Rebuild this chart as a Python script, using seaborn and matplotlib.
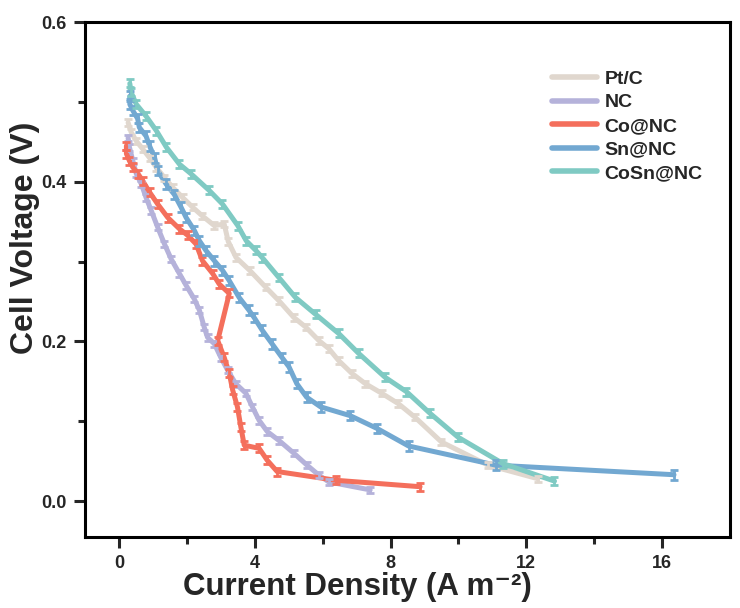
import numpy as np
import pandas as pd
import matplotlib
matplotlib.use("Agg")
import matplotlib.pyplot as plt
import seaborn as sns

# ---- data ----
ptc_x = [0.27, 0.36, 0.51, 0.7, 0.9, 1.1, 1.34, 1.58, 1.88, 2.17, 2.46, 2.81, 3.1, 3.22, 3.45,
         3.85, 4.32, 4.71, 5.15, 5.5, 5.89, 6.18, 6.47, 6.86, 7.26, 7.74, 8.23, 8.72, 9.5, 10.87, 12.34]
ptc_y = [0.474, 0.462, 0.451, 0.441, 0.43, 0.418, 0.405, 0.393, 0.38, 0.368, 0.357, 0.345, 0.347, 0.325, 0.305,
         0.289, 0.268, 0.251, 0.23, 0.218, 0.201, 0.191, 0.176, 0.16, 0.147, 0.135, 0.122, 0.105, 0.074, 0.045, 0.028]

nc_x = [0.27, 0.31, 0.41, 0.51, 0.66, 0.8, 0.95, 1.14, 1.34, 1.54, 1.78, 1.98, 2.22, 2.37, 2.51, 2.61,
        2.81, 3.0, 3.2, 3.44, 3.74, 3.93, 4.13, 4.37, 4.71, 5.15, 5.54, 5.89, 6.18, 7.4]
nc_y = [0.455, 0.443, 0.426, 0.41, 0.397, 0.38, 0.364, 0.343, 0.322, 0.303, 0.285, 0.27, 0.253, 0.239, 0.218, 0.205,
        0.197, 0.18, 0.164, 0.147, 0.135, 0.118, 0.101, 0.087, 0.076, 0.06, 0.045, 0.0325, 0.024, 0.014]

conc_x = [0.22, 0.22, 0.31, 0.41, 0.56, 0.7, 0.9, 1.14, 1.44, 1.78, 2.02, 2.27, 2.46, 2.76, 2.95, 3.25,
          2.91, 3.1, 3.25, 3.35, 3.49, 3.59, 3.69, 4.13, 4.37, 4.66, 6.4, 8.87]
conc_y = [0.445, 0.435, 0.426, 0.418, 0.41, 0.401, 0.387, 0.372, 0.355, 0.341, 0.333, 0.322, 0.301, 0.285, 0.272, 0.26,
          0.201, 0.18, 0.16, 0.139, 0.118, 0.093, 0.07, 0.066, 0.051, 0.037, 0.026, 0.018]

snnc_x = [0.32, 0.32, 0.41, 0.55, 0.6, 0.8, 0.9, 1.05, 1.14, 1.39, 1.63, 1.83, 1.98, 2.22, 2.37, 2.56, 2.81,
          3.05, 3.25, 3.54, 3.83, 3.98, 4.22, 4.51, 4.8, 5.01, 5.24, 5.53, 5.94, 6.81, 7.6, 8.53, 11.1, 16.35]
snnc_y = [0.507, 0.497, 0.489, 0.479, 0.468, 0.457, 0.445, 0.43, 0.414, 0.397, 0.384, 0.368, 0.355, 0.339, 0.326, 0.314, 0.301,
          0.289, 0.276, 0.255, 0.239, 0.23, 0.214, 0.197, 0.18, 0.168, 0.147, 0.13, 0.118, 0.107, 0.091, 0.069, 0.045, 0.033]

cosn_x = [0.32, 0.36, 0.51, 0.8, 1.1, 1.4, 1.78, 2.12, 2.66, 3.05, 3.5, 3.75, 4.03, 4.22, 4.71, 5.2, 5.79,
          6.47, 7.06, 7.84, 8.47, 9.16, 9.99, 11.31, 12.83]
cosn_y = [0.523, 0.512, 0.497, 0.482, 0.464, 0.443, 0.422, 0.41, 0.389, 0.372, 0.345, 0.326, 0.314, 0.305, 0.28, 0.255, 0.234,
          0.21, 0.185, 0.155, 0.137, 0.11, 0.08, 0.047, 0.025]

labels = ["Pt/C", "NC", "Co@NC", "Sn@NC", "CoSn@NC"]
xs = [ptc_x, nc_x, conc_x, snnc_x, cosn_x]
ys = [ptc_y, nc_y, conc_y, snnc_y, cosn_y]
err = [0.004, 0.004, 0.005, 0.006, 0.005]
colors = ["#E0D7CE", "#B5B2DA", "#F46F5C", "#72A8D1", "#7FCAC3"]

frames = []
for lab, x, y in zip(labels, xs, ys):
    frames.append(pd.DataFrame({"x": x, "y": y, "sample": lab}))
df = pd.concat(frames, ignore_index=True)

sns.set_theme(style="ticks")
plt.rcParams["font.family"] = ["Liberation Sans", "DejaVu Sans"]
plt.rcParams["font.weight"] = "bold"

fig = plt.figure(figsize=(7.4, 6.08), dpi=100)
ax = fig.add_axes([85 / 740, 1 - 537 / 608, (730 - 85) / 740, (537 - 22) / 608])

sns.lineplot(data=df, x="x", y="y", hue="sample", hue_order=labels, palette=colors,
             sort=False, estimator=None, units="sample", linewidth=3.6, ax=ax, legend=True)

for lab, x, y, e, c in zip(labels, xs, ys, err, colors):
    ax.errorbar(x, y, yerr=e, fmt="none", ecolor=c, elinewidth=2.0, capsize=3.0, capthick=2.0, zorder=2)

ax.set_xlim(-1, 18)
ax.set_ylim(-0.045, 0.6)
ax.set_xticks([0, 4, 8, 12, 16])
ax.set_xticks([2, 6, 10, 14], minor=True)
ax.set_yticks([0.0, 0.2, 0.4, 0.6])
ax.set_yticks([0.1, 0.3, 0.5], minor=True)
ax.set_xticklabels(["0", "4", "8", "12", "16"], fontsize=13, fontweight="bold")
ax.set_yticklabels(["0.0", "0.2", "0.4", "0.6"], fontsize=13, fontweight="bold")
ax.tick_params(which="major", direction="out", length=8, width=2.2, pad=5)
ax.tick_params(which="minor", direction="out", length=5, width=2.2)

for s in ax.spines.values():
    s.set_linewidth(2.2)
    s.set_color("black")

ax.set_xlabel("Current Density (A m\u207b\u00b2)", fontsize=22.5, fontweight="bold")
ax.xaxis.set_label_coords(0.423, -0.068)
ax.set_ylabel("Cell Voltage (V)", fontsize=23, fontweight="bold")
ax.yaxis.set_label_coords(-0.07, 0.58)

leg = ax.legend(loc="upper right", bbox_to_anchor=(0.985, 0.94), frameon=False,
                prop={"size": 14, "weight": "bold"}, handlelength=2.3, handletextpad=0.4,
                labelspacing=0.3)
for h in leg.get_lines():
    h.set_linewidth(4)

fig.savefig("out.png", dpi=100)
